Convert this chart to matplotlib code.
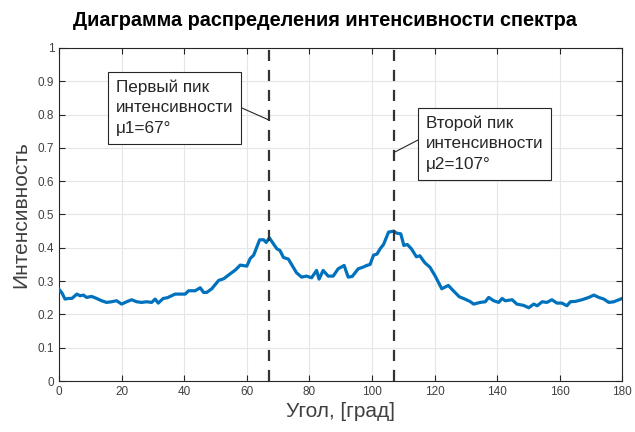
import matplotlib
matplotlib.use('Agg')
import matplotlib.pyplot as plt

plt.rcParams['font.family'] = ['Liberation Sans', 'DejaVu Sans']

# Данные
ugol = [0, 0.9, 1.9, 3, 4.1, 5.7, 6.7, 7.8, 8.8, 10.4, 12, 13.6, 15.2, 16.8, 18.4,
        20, 21.6, 23.2, 24.8, 26.4, 28, 29.6, 30.7, 31.7, 33.3, 34.6, 37.1, 38.7,
        40.3, 41.4, 43.5, 45.1, 46.2, 47.2, 48.8, 51, 52.6, 54.7, 56.3, 57.9, 60,
        61.1, 62.2, 64.1, 65.4, 66.2, 67.2, 68.5, 69.6, 70.6, 71.7, 73.3, 74.3,
        75.9, 77.5, 79.1, 80.7, 82.3, 83.1, 84.4, 86, 87.6, 89.2, 91.1, 92.4, 93.7,
        95.6, 97.2, 98.3, 99.4, 100.5, 101.6, 102.6, 103.7, 105.3, 106.9, 107.9,
        109.2, 110.2, 111.3, 112.6, 114.2, 115.3, 116.9, 118.5, 120.1, 122.3,
        124.4, 126, 127.9, 129.7, 131.3, 132.5, 134.6, 136.2, 137.3, 138.9, 140.5,
        141.6, 142.6, 144.8, 146.3, 148.5, 150.1, 151.7, 152.8, 154.4, 155.9,
        157.5, 159.1, 160.7, 162.3, 163.4, 165, 167.1, 169.3, 170.9, 172.5, 174.1,
        175.7, 177.3, 178.9, 180]
intens = [0.275, 0.265, 0.246, 0.248, 0.248, 0.261, 0.256, 0.258, 0.251, 0.254,
          0.248, 0.241, 0.236, 0.238, 0.241, 0.231, 0.238, 0.244, 0.238, 0.236,
          0.238, 0.236, 0.246, 0.234, 0.248, 0.25, 0.261, 0.261, 0.261, 0.271,
          0.271, 0.28, 0.266, 0.266, 0.277, 0.302, 0.307, 0.322, 0.333, 0.348,
          0.345, 0.368, 0.378, 0.424, 0.424, 0.416, 0.43, 0.412, 0.397, 0.392,
          0.371, 0.366, 0.35, 0.325, 0.312, 0.315, 0.31, 0.332, 0.306, 0.332,
          0.315, 0.315, 0.337, 0.347, 0.312, 0.314, 0.337, 0.342, 0.347, 0.35,
          0.378, 0.381, 0.397, 0.41, 0.447, 0.45, 0.444, 0.442, 0.407, 0.41,
          0.397, 0.373, 0.376, 0.355, 0.342, 0.317, 0.277, 0.287, 0.271, 0.253,
          0.246, 0.239, 0.231, 0.236, 0.238, 0.251, 0.241, 0.236, 0.248, 0.241,
          0.244, 0.231, 0.227, 0.22, 0.231, 0.226, 0.238, 0.236, 0.244, 0.234,
          0.234, 0.226, 0.238, 0.239, 0.244, 0.251, 0.258, 0.251, 0.246, 0.236,
          0.238, 0.244, 0.248]

piki = [67, 107]
podpisi = ['Первый пик\nинтенсивности\nμ1=67°', 'Второй пик\nинтенсивности\nμ2=107°']

fig = plt.figure(figsize=(6.35, 4.32), dpi=100)
ax = fig.add_axes([0.093, 0.118, 0.887, 0.771])

ax.plot(ugol, intens, color='#0072BD', linewidth=2.3, zorder=3)
for p in piki:
    ax.axvline(p, color='#333333', linestyle=(0, (5, 4)), linewidth=1.6, zorder=4)

ax.set_xlim(0, 180)
ax.set_ylim(0, 1)
ax.set_xticks(range(0, 181, 20))
ax.set_yticks([i / 10 for i in range(11)])
ax.set_yticklabels(['0', '0.1', '0.2', '0.3', '0.4', '0.5', '0.6', '0.7', '0.8', '0.9', '1'])
ax.grid(True, color='#e6e6e6', linewidth=0.8, zorder=0)
ax.set_axisbelow(True)
ax.tick_params(direction='in', top=True, right=True, length=4, labelsize=8.5,
               colors='#262626', labelcolor='#404040')
for s in ax.spines.values():
    s.set_color('#262626')
    s.set_linewidth(0.8)

# заголовок чуть левее центра осей, как в оригинале
fig.text(0.512, 0.953, 'Диаграмма распределения интенсивности спектра',
         fontsize=14.3, fontweight='bold', ha='center', va='center')
ax.set_xlabel('Угол, [град]', fontsize=15, color='#404040', labelpad=3)
ax.set_ylabel('Интенсивность', fontsize=15, color='#404040', labelpad=5)

box = dict(boxstyle='square,pad=0.45', fc='white', ec='#262626', lw=0.8)
ax.annotate(podpisi[0], xy=(67, 0.784), xytext=(18.2, 0.745), fontsize=12.3,
            color='#262626', linespacing=1.45, bbox=box, zorder=5,
            arrowprops=dict(arrowstyle='-', color='#262626', lw=0.8,
                            relpos=(1, 0.56), shrinkA=0, shrinkB=0))
ax.annotate(podpisi[1], xy=(107.4, 0.688), xytext=(117.3, 0.637), fontsize=12.3,
            color='#262626', linespacing=1.45, bbox=box, zorder=5,
            arrowprops=dict(arrowstyle='-', color='#262626', lw=0.8,
                            relpos=(0, 0.64), shrinkA=0, shrinkB=0))

fig.savefig('out.png', dpi=100)
